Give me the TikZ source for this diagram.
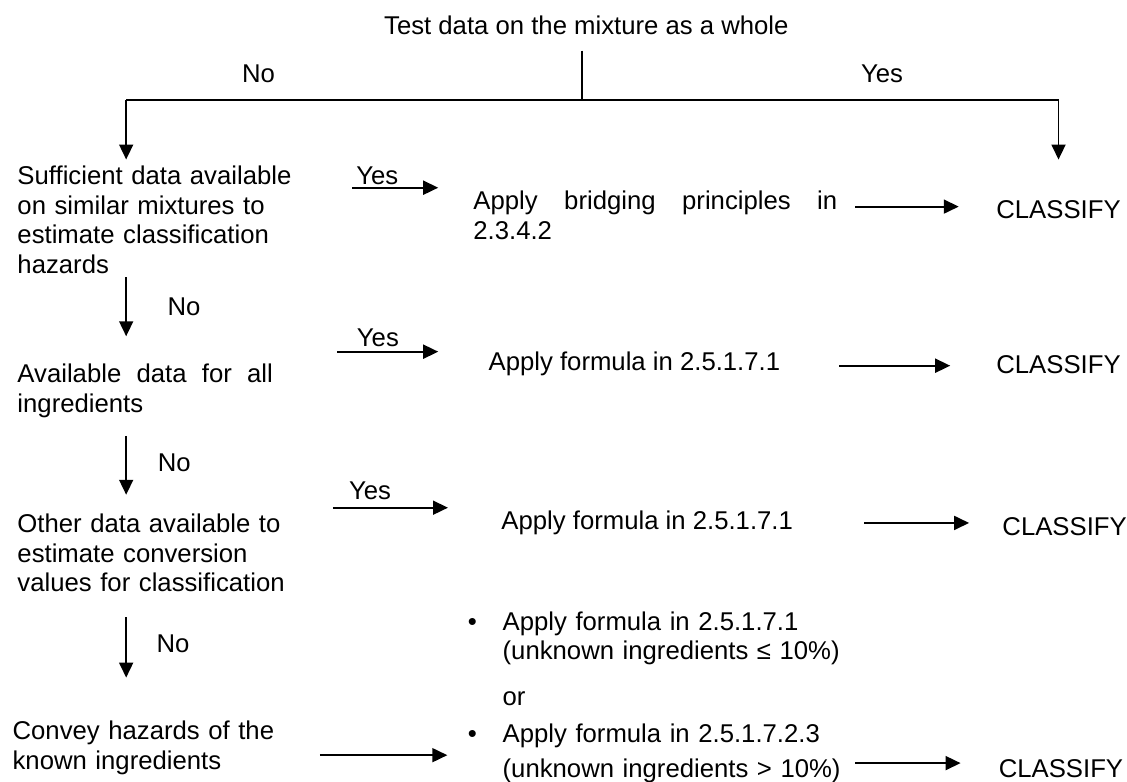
\documentclass[tikz,border=0pt]{standalone}
\usepackage{fontspec}
\setmainfont{Liberation Sans}
\usetikzlibrary{arrows.meta,calc,positioning}
\definecolor{mxInk}{HTML}{000000}

\begin{document}
\begin{tikzpicture}[x=1cm,y=1cm,
  font=\fontsize{12}{13.8}\selectfont,text=mxInk,
  mxbox/.style={anchor=base west,inner sep=0pt,text width=4.76cm,align=left},
  mxtext/.style={anchor=base west,inner sep=0pt},
  mxlabel/.style={anchor=base,inner sep=0pt},
  mxline/.style={draw=mxInk,line width=0.6pt},
  mxarrow/.style={draw=mxInk,line width=0.9pt,-{Triangle[length=7pt,width=6.5pt]}}]
  \path[use as bounding box] (0,0) rectangle (18.49,12.83);

  \node[mxlabel] (title) at (9.62,12.26) {Test data on the mixture as a whole};
  \coordinate (fork) at (9.55,11.19);
  \coordinate (spine) at (2.07,11.19);
  \node[mxlabel] (topno) at (4.24,11.47) {No};
  \node[mxlabel] (topyes) at (14.47,11.47) {Yes};

  % left column: the questions asked in turn
  \node[mxbox] (q1) at (0.28,9.80) {Sufficient data available\\on similar mixtures to\\estimate classification\\hazards};
  \node[mxbox,text width=4.19cm,align=justify] (q2) at (0.28,6.55) {Available data for all ingredients};
  \node[mxbox] (q3) at (0.28,4.09) {Other data available to\\estimate conversion\\values for classification};
  \node[mxbox] (q4) at (0.20,0.69) {Convey hazards of the\\known ingredients};
  \node[mxlabel] (no1) at (3.02,7.65) {No};
  \node[mxlabel] (no2) at (2.86,5.09) {No};
  \node[mxlabel] (no3) at (2.84,2.12) {No};

  % middle column: what to apply
  \node[mxtext,text width=5.97cm,align=justify] (bridge) at (7.76,9.39) {Apply bridging principles in 2.3.4.2};
  \node[mxtext] (form1) at (8.01,6.75) {Apply formula in 2.5.1.7.1};
  \node[mxtext] (form2) at (8.22,4.14) {Apply formula in 2.5.1.7.1};
  \node[mxlabel] (dot1) at (7.75,2.49) {\textbullet};
  \node[mxtext,text width=6cm,align=left] (item1) at (8.24,2.49) {Apply formula in 2.5.1.7.1\\(unknown ingredients ≤ 10\%)};
  \node[mxtext] (orword) at (8.24,1.26) {or};
  \node[mxlabel] (dot2) at (7.75,0.64) {\textbullet};
  \node[mxtext,text width=6cm,align=left] (item2) at (8.24,0.64) {Apply formula in 2.5.1.7.2.3\\[2.5pt](unknown ingredients > 10\%)};
  \node[mxlabel] (yes1) at (6.19,9.80) {Yes};
  \node[mxlabel] (yes2) at (6.20,7.14) {Yes};
  \node[mxlabel] (yes3) at (6.07,4.63) {Yes};

  % right column
  \node[mxtext] (cls1) at (16.34,9.24) {CLASSIFY};
  \node[mxtext] (cls2) at (16.34,6.71) {CLASSIFY};
  \node[mxtext] (cls3) at (16.44,4.05) {CLASSIFY};
  \node[mxtext] (cls4) at (16.38,0.08) {CLASSIFY};

  % the split below the first question
  \draw[mxline] ($(title.south -| fork)+(0,-0.25)$) -- (fork);
  \draw[mxline] (spine) -- (spine -| cls1.north);
  \draw[mxarrow,shorten >=0.1cm] (spine) -- (q1.north -| spine);
  \draw[mxarrow,shorten >=0.67cm] (spine -| cls1.north) -- (cls1.north);

  \draw[mxarrow,shorten <=0.05cm,shorten >=0.45cm] (q1.south -| spine) -- (q2.north -| spine);
  \draw[mxarrow,shorten <=0.29cm,shorten >=0.31cm] (q2.south -| spine) -- (q3.north -| spine);
  \draw[mxarrow,shorten <=0.41cm,shorten >=0.71cm] (q3.south -| spine) -- (q4.north -| spine);

  \coordinate (yes1tail) at (5.78,9.75);
  \coordinate (yes2tail) at (5.53,7.06);
  \coordinate (yes3tail) at (5.46,4.50);
  \coordinate (knowntail) at (5.25,0.44);
  \draw[mxarrow,shorten >=0.57cm] (yes1tail) -- (yes1tail -| bridge.west);
  \draw[mxarrow,shorten >=0.82cm] (yes2tail) -- (yes2tail -| form1.west);
  \draw[mxarrow,shorten >=0.87cm] (yes3tail) -- (yes3tail -| form2.west);
  \draw[mxarrow,shorten >=0.33cm] (knowntail) -- (knowntail -| dot2.west);

  \coordinate (to1) at (14.03,9.44);
  \coordinate (to2) at (13.77,6.83);
  \coordinate (to3) at (14.18,4.25);
  \coordinate (to4) at (14.03,0.31);
  \draw[mxarrow,shorten >=0.61cm] (to1) -- (to1 -| cls1.west);
  \draw[mxarrow,shorten >=0.75cm] (to2) -- (to2 -| cls2.west);
  \draw[mxarrow,shorten >=0.54cm] (to3) -- (to3 -| cls3.west);
  \draw[mxarrow,shorten >=0.62cm] (to4) -- (to4 -| cls4.west);
\end{tikzpicture}
\end{document}
